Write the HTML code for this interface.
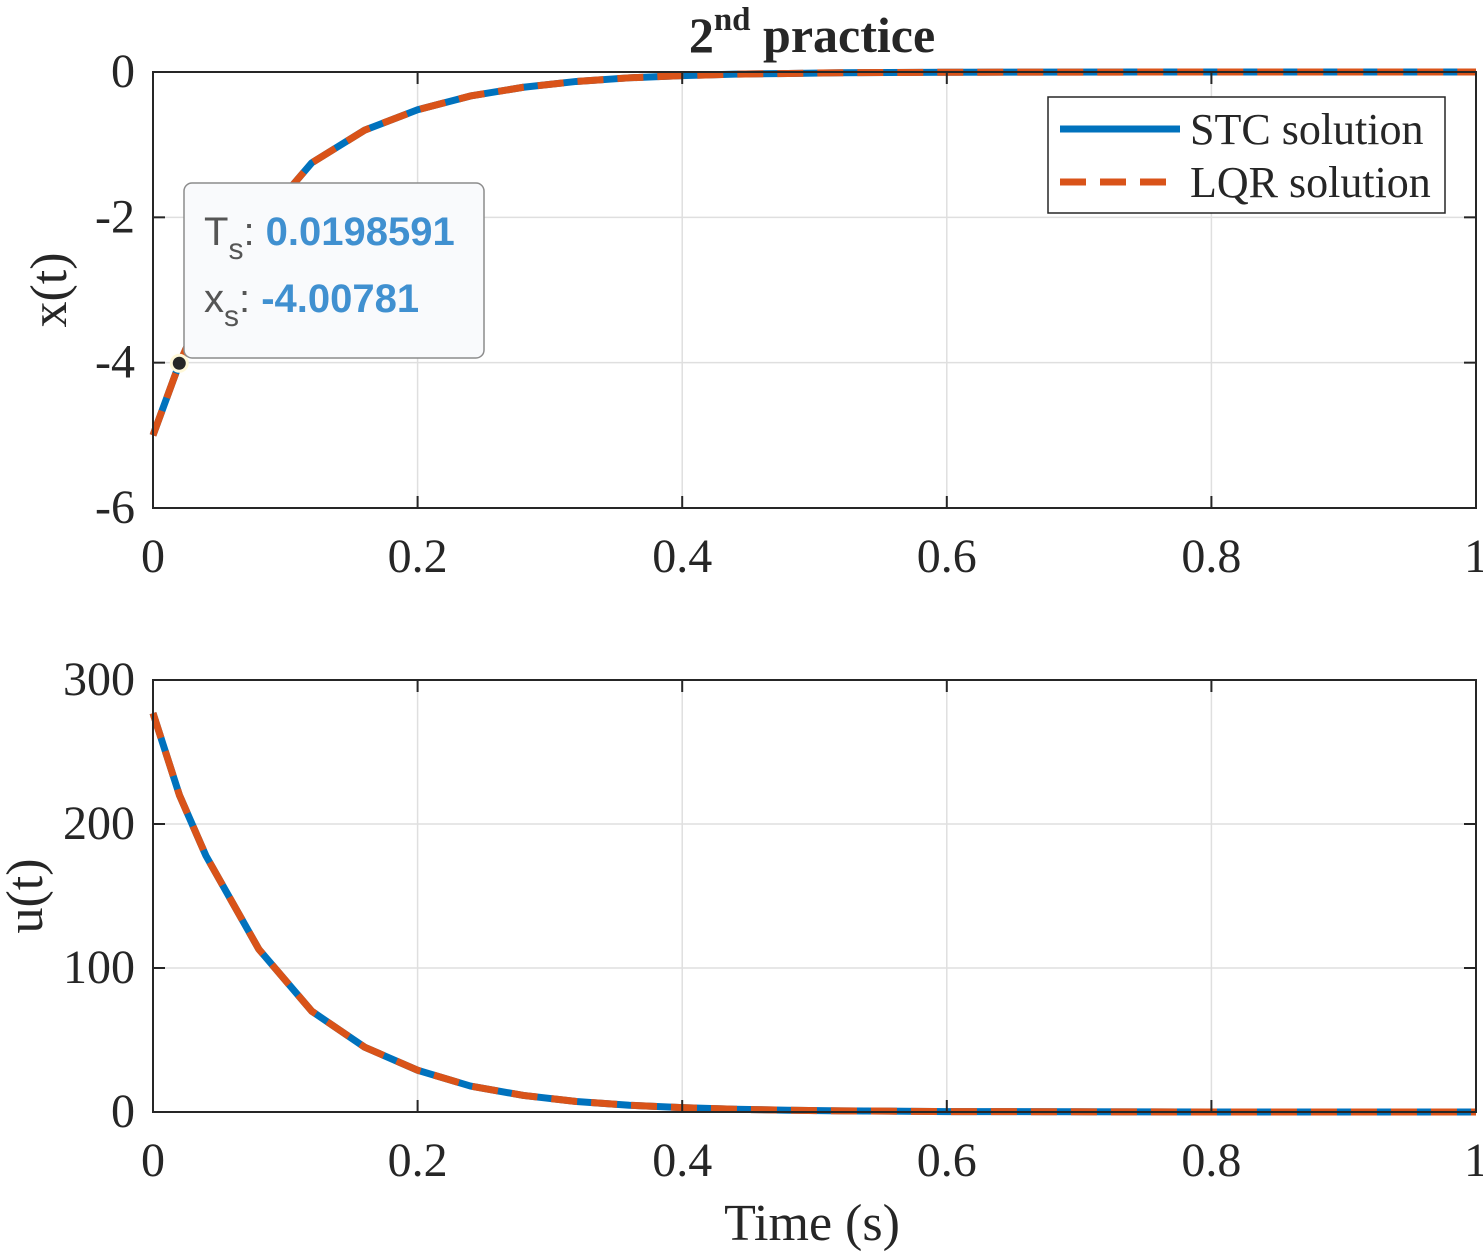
<!DOCTYPE html>
<html><head><meta charset="utf-8">
<style>
html,body{margin:0;padding:0;background:#fff;}
svg{display:block;}
text{font-family:"Liberation Serif",serif;fill:#262626;}
</style></head>
<body>
<svg id="chart" width="1483" height="1252" viewBox="0 0 1483 1252" xmlns="http://www.w3.org/2000/svg">
<g id="top"></g>
<g id="bot"></g>
<text x="812" y="52" text-anchor="middle" font-size="50" font-weight="bold">2<tspan dy="-22" font-size="33">nd</tspan><tspan dy="22"> practice</tspan></text>
<text x="812" y="1240" text-anchor="middle" font-size="52">Time (s)</text>
<text transform="translate(66,290) rotate(-90)" text-anchor="middle" font-size="52">x(t)</text>
<text transform="translate(42,896) rotate(-90)" text-anchor="middle" font-size="52">u(t)</text>
</svg>
<script>
const tVals=[0,0.02,0.04,0.08,0.12,0.16,0.2,0.24,0.28,0.32,0.36,0.4,0.44,0.48,0.52,0.6,0.8,1];
const xVals=[-5,-4.008,-3.2,-2.1,-1.25,-0.8,-0.52,-0.33,-0.21,-0.13,-0.08,-0.05,-0.03,-0.02,-0.01,-0.003,0,0];
const uVals=[277,220,178,113,70,45,29,18,11.5,7.3,4.7,3,1.9,1.2,0.8,0.3,0,0];
const xTicks=[0,0.2,0.4,0.6,0.8,1];
const xTickLabels=["0","0.2","0.4","0.6","0.8","1"];
const yTopTicks=[0,-2,-4,-6];
const yBotTicks=[0,100,200,300];
const markerT=0.0198591, markerX=-4.00781;
const NS="http://www.w3.org/2000/svg";
function mk(tag,attrs,parent){const e=document.createElementNS(NS,tag);for(const k in attrs)e.setAttribute(k,attrs[k]);parent.appendChild(e);return e;}
const L=153,R=1476;
const sx=t=>L+(R-L)*t;
function axes(g,top,bottom,ymin,ymax,yTicks,yData,name){
  const sy=v=>bottom-(v-ymin)/(ymax-ymin)*(bottom-top);
  for(const t of xTicks){const l=mk('line',{x1:sx(t),x2:sx(t),y1:top,y2:bottom,stroke:'#dfdfdf','stroke-width':1.5},g);
    }
  for(const v of yTicks){const l=mk('line',{x1:L,x2:R,y1:sy(v),y2:sy(v),stroke:'#dfdfdf','stroke-width':1.5},g);
    }
  const pts=tVals.map((t,i)=>sx(t)+','+sy(yData[i])).join(' ');
  const s1=mk('polyline',{points:pts,fill:'none',stroke:'#0072BD','stroke-width':7,'stroke-linejoin':'round'},g);
  
  const s2=mk('polyline',{points:pts,fill:'none',stroke:'#D95319','stroke-width':7,'stroke-dasharray':'26 14'},g);
  
  const b=mk('rect',{x:L,y:top,width:R-L,height:bottom-top,fill:'none',stroke:'#262626','stroke-width':2},g);
  
  xTicks.forEach((t,i)=>{
    mk('line',{x1:sx(t),x2:sx(t),y1:bottom,y2:bottom-12,stroke:'#262626','stroke-width':2},g);
    mk('line',{x1:sx(t),x2:sx(t),y1:top,y2:top+12,stroke:'#262626','stroke-width':2},g);
    const tx=mk('text',{x:sx(t),y:bottom+64,'text-anchor':'middle','font-size':48},g);tx.textContent=xTickLabels[i];
    
  });
  yTicks.forEach(v=>{
    mk('line',{x1:L,x2:L+12,y1:sy(v),y2:sy(v),stroke:'#262626','stroke-width':2},g);
    mk('line',{x1:R,x2:R-12,y1:sy(v),y2:sy(v),stroke:'#262626','stroke-width':2},g);
    const tx=mk('text',{x:L-18,y:sy(v)+15,'text-anchor':'end','font-size':48},g);tx.textContent=String(v);
    
  });
  return sy;
}
const gt=document.getElementById('top'),gb=document.getElementById('bot');
const syT=axes(gt,72,508,-6,0,yTopTicks,xVals,'state');
axes(gb,680,1112,0,300,yBotTicks,uVals,'control');
// legend
const lg=mk('g',{},gt);

mk('rect',{x:1048,y:97,width:397,height:116,fill:'#fff',stroke:'#262626','stroke-width':1.5},lg);
mk('line',{x1:1060,x2:1180,y1:129,y2:129,stroke:'#0072BD','stroke-width':7},lg);
mk('line',{x1:1060,x2:1180,y1:182,y2:182,stroke:'#D95319','stroke-width':7,'stroke-dasharray':'26 14'},lg);
let t1=mk('text',{x:1190,y:144,'font-size':44},lg);t1.textContent='STC solution';

let t2=mk('text',{x:1190,y:197,'font-size':44},lg);t2.textContent='LQR solution';

// datatip
const dt=mk('g',{},gt);

mk('rect',{x:184,y:183,width:300,height:175,rx:8,fill:'#f9fafc',stroke:'#8c8c8c','stroke-width':1.5},dt);
const f='font-family:"Liberation Sans",sans-serif;';
let d1=mk('text',{x:204,y:245,'font-size':40,style:f+'fill:#555'},dt);d1.innerHTML='T<tspan dy="14" font-size="30">s</tspan><tspan dy="-14">: </tspan><tspan font-weight="bold" style="fill:#4090d0">'+markerT+'</tspan>';

let d2=mk('text',{x:204,y:312,'font-size':40,style:f+'fill:#555'},dt);d2.innerHTML='x<tspan dy="14" font-size="30">s</tspan><tspan dy="-14">: </tspan><tspan font-weight="bold" style="fill:#4090d0">'+markerX+'</tspan>';

const mc=mk('circle',{cx:sx(markerT),cy:syT(markerX),r:8,fill:'#262626',stroke:'#fff8d8','stroke-width':3},dt);

</script>
</body></html>
